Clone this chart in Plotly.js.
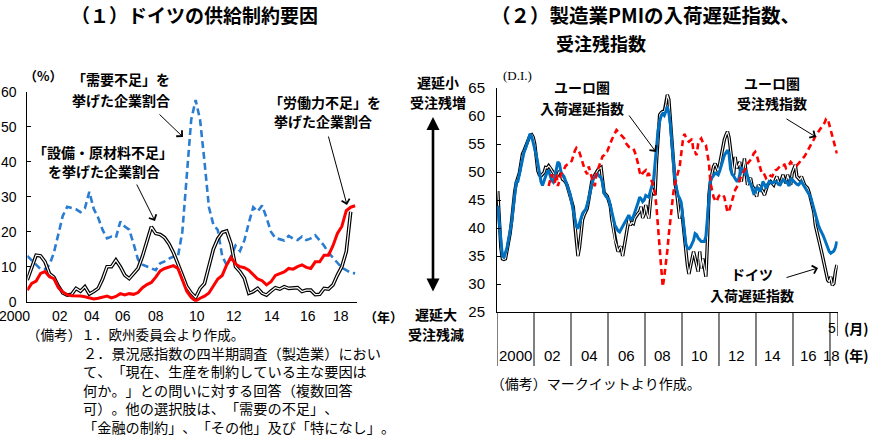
<!DOCTYPE html>
<html>
<head>
<meta charset="utf-8">
<script src="https://cdn.plot.ly/plotly-3.0.1.min.js"></script>
<style>
html,body{margin:0;padding:0;background:#fff;}
#chart{width:871px;height:436px;}
#chart svg text{text-spacing-trim:space-all;font-kerning:none;}
</style>
</head>
<body>
<div id="chart"></div>
<script>
// ---------- DATA : left panel (quarterly, 2000Q1 onward, %) ----------
const leftStartYear = 2000;
const demandShortage = [13.1,11.8,10.5,9.3,9.3,10.5,14,19,24.5,27.1,26.8,26.4,25.6,26.7,31.4,26.5,24,20.5,18.1,18.6,18.3,22.9,21.5,20.6,16.5,12,10.6,10,9.5,9,11,11.5,12.3,12.9,12.9,20,36,52,57.6,52,40,27,22,20.5,13,10.5,13,16,14.5,17.5,22.5,27,25.8,27.5,24,20,18.2,17.9,17.5,18.8,18,17.6,18.6,17.6,18.1,19,17.5,16,14,12.5,11,9.7,9,8.3,8.1];
const equipmentShortage = [6.2,9.5,13.3,13.1,11.4,8,7,4.5,2.5,1.9,2.1,3.8,3,4.3,2.2,2.9,3.8,6.5,10,10,11.9,10,7.6,6.6,8.1,9.5,13,17,21.4,19.5,19.2,18.3,16.5,14,11,7.6,4.3,2.5,1.2,3.8,5.2,10,15,18,19.8,20.2,16.5,10,8.6,6.7,2.4,2.9,3.8,2.4,1.9,3,4,3.6,4.3,3.8,3.8,4,2.9,3.3,3.3,2,2.1,3.8,3.6,4.8,7.6,10,14.3,25.7];
const labourShortage = [3.3,5.2,5.9,8.1,8.6,7.1,6.6,4,2.8,2,1.7,1.7,1.6,1.4,1,0.8,1,1.3,1.6,1.1,1.5,2.3,1.9,2.3,2.1,2.6,4,4.9,5.5,7,8.8,9.5,9.8,10.3,9.5,6.5,3,1.2,0.2,1,1.6,2.5,4.5,6.5,7.5,10.5,12.6,10.8,10,9.7,9,7.6,6.5,6,4.8,5.7,7.5,8,8.5,9.5,9.3,10,10.5,9.8,9.5,11.4,11.4,13.3,13.3,16,19.5,21.5,26,27,27.4];
const leftYearLabels = ["2000","02","04","06","08","10","12","14","16","18"];
const leftYTicks = [0,10,20,30,40,50,60];

// ---------- DATA : right panel (monthly, 2000-01 .. 2018-05, D.I.) ----------
const euroDelivery = [44,41,37.5,35,34.8,35.5,36.5,38,39.5,41,
43.5,46.5,48.2,48.3,49.5,51.2,52.5,53.5,54.2,55,
56.2,56.8,56.3,55.2,54.5,53,51.5,50,48.3,47.6,
48.4,49.5,50,50.2,49.5,48.5,48.2,49,50.5,51.8,
51.5,50,49.5,49.2,48.4,47.5,47,46,44.5,43,
41.5,40.3,39.9,40.8,42,42.6,43,43.3,44.2,45.5,
46.5,47.6,48.8,49.2,49.4,49.6,49.2,49,48,46.2,
45.7,45.4,45.1,44,43,41.8,40.5,40,39.5,39.3,
39.8,40.2,40.6,41.1,41.6,42.3,41.6,41.6,42.1,42.8,
43.8,44.5,45.5,45.2,44.7,45,45.8,45.7,45.5,46.6,
47.6,48.5,51.5,54.5,57.5,59,60,60.4,60.1,60.8,
61.7,60.5,58.4,55,51,48.5,47,45.8,45.3,44.6,
42,39.5,37.2,36.4,36.3,36.6,37.2,37.8,39,38.8,
38.2,37.8,37.6,37.6,37.6,38.5,42,46.5,48.5,49,
49.5,49.8,49.7,49.5,50.2,51.3,52.2,53,53.4,53.9,
53.2,50.5,49.6,49.3,48.8,48.4,48.4,49.8,50.9,50.2,
49.8,50.3,49,48.3,47.9,47.2,46.2,46.4,47.3,47,
46.5,47.2,48.3,47.8,47.1,47.6,48.3,48.2,48,48.2,
48.3,48.2,47.8,47.7,48.2,48.6,48.4,48.3,48,47.5,
48.9,48.6,48.3,48.1,47.8,47.7,48,48.3,47.8,47.4,
47,46.5,46,45.5,44.5,43.3,42,41,40.5,39.8,
39.3,38.7,38,37.2,36.4,35.8,35.5,35.7,35.9,36.5,
37.6];
const germanyDelivery = [46.6,40.5,36.5,34.5,34.4,34.5,36,37.4,39,41.3,
44.5,46.5,48.1,48.8,49.8,51.5,53.2,53.8,54.6,55.2,
56,56.6,56.7,56.2,55,52.5,50.2,49.5,49.3,49.6,
49.9,50.8,50.7,51.1,50.8,50.3,49.9,49.6,49,49.5,
50.2,49.5,48.7,48.5,48.2,47.6,46.5,45.4,44.2,43.7,
40.5,37.5,35,36.5,39.5,41.5,42.3,43,43.5,45,
47,48.3,49,49.5,49.9,50.4,50.6,50.8,48.5,46.3,
46,45.7,44.8,43.9,41.5,39.8,37.8,37,35.8,36.4,
36.7,35,36.4,38.5,39.9,41.4,40.5,41,40.8,41.8,
42.3,42.6,42.9,43.8,41.8,42.5,44.1,42.5,41.7,44.7,
47.1,46.2,45.9,52,56.5,60.2,60.6,60.8,60.8,62,
63.8,62.9,59,54,50.1,48,46.5,44.1,41.7,44,
41,38.2,35,33.4,31.8,33.4,34.5,35.8,34.6,33.5,
32.2,35.8,32.8,34.6,33,31.3,37.6,45.9,48.5,49.8,
51,51.5,50.8,50.1,51.5,53.2,54.8,55.8,56.6,57.2,
56.2,53.6,51,49.5,52.7,50.7,51.2,51.8,48.3,50.5,
52.4,50,47.7,48.6,48.9,47.5,47.1,46.3,45.6,47.7,
47.3,47.1,46.5,45.9,46.8,47.7,48,48.3,48,47.7,
48.5,49.2,48.4,47.7,48.6,49.5,48.5,48,49.5,48.6,
47.7,49.8,50.5,51.3,49.2,48.8,48.6,49.2,48.4,47.7,
47.4,47.1,46.3,45.3,44.2,42.9,40.5,39.5,38.2,37,
35.8,34.6,33,31.6,30.7,30.4,31.3,29.8,30.1,32.2,
33.4];
const backlogStartMonth = 33; // first month index with data (2002-10)
const euroBacklog = [47.5,48.5,49.6,48.5,48.1,49.6,47.5,48.5,49.6,49.9,
50.5,51.1,51.3,51.4,51.6,52,53,53.8,54.3,54,
53.5,52.5,51.5,50.8,50.1,49.6,51,50,48.7,48,
47.5,49.8,50.5,51.4,52,52.8,53,53.5,53.7,54.6,
55.1,55.8,56.3,57,57.5,57.2,56.9,56.5,56.2,56,
55.2,54.8,54.5,54.4,54.3,54.2,53.5,52.7,51.5,50,
49.3,49.8,50.1,50.3,49.5,49.8,48.7,48.3,47.2,46.3,
43.5,40,35.8,32,29.5,31.3,33.5,36,39,41.5,
44.5,46.5,48,49.2,50,51,53.5,55.5,56.8,56.2,
55.7,55.4,55.7,55.9,53.5,53.5,53,55.1,55.7,56,
55.3,55,54.8,53.2,51.5,48,46.5,45.5,45,44.7,
45.5,45.9,46,45.9,45.5,44.1,42.8,43,44,44.8,
45.8,46.8,47.3,47.8,48.6,49.5,49.8,50.2,50.8,51.5,
51.8,52.2,52.6,53.3,53.6,53,52,50.7,50,50.1,
49.5,48.9,49.2,49.5,49.3,49.2,49.8,50.3,50.4,50.8,
51,51.3,51.2,51.3,50.7,51,51.3,51.8,51.5,51.5,
51.3,51.2,51.5,51.8,52.1,52.4,52.8,53.3,53.8,54.2,
54.6,55.2,55.8,56.4,56.8,57.2,57.5,58,58.3,58.8,
59.5,59.5,58.5,57.5,56.5,55,54,53.3];
const rightYearLabels = ["2000","02","04","06","08","10","12","14","16","18"];
const lastMonthLabel = "5";
const rightYTicks = [25,30,35,40,45,50,55,60,65];
const leftNoteHead = '（備考）１．欧州委員会より作成。';
const leftNotes = [
  '２．景況感指数の四半期調査（製造業）におい',
  'て、「現在、生産を制約している主な要因は',
  '何か。」との問いに対する回答（複数回答',
  '可）。他の選択肢は、「需要の不足」、',
  '「金融の制約」、「その他」及び「特になし」。'
];

// ---------- helpers ----------
const W = 871, H = 436;
const JP = "Noto Sans CJK JP";
const LAT = "Liberation Sans";
const px = v => v / W;
const py = v => 1 - v / H;

const qx = demandShortage.map((_, i) => leftStartYear + i / 4);
const qxEq = equipmentShortage.map((_, i) => leftStartYear + i / 4);
const qxLab = labourShortage.map((_, i) => leftStartYear + i / 4);
const mx = euroDelivery.map((_, i) => i);
const mxG = germanyDelivery.map((_, i) => i);
const mxB = euroBacklog.map((_, i) => backlogStartMonth + i);

const traces = [
  {x: qx, y: demandShortage, xaxis:'x', yaxis:'y', mode:'lines', line:{color:'#2A7DD1', width:2.6, dash:'7px,4px'}},
  {x: qxEq, y: equipmentShortage, xaxis:'x', yaxis:'y', mode:'lines', line:{color:'#000', width:3.6}},
  {x: qxEq, y: equipmentShortage, xaxis:'x', yaxis:'y', mode:'lines', line:{color:'#fff', width:1.2}},
  {x: qxLab, y: labourShortage, xaxis:'x', yaxis:'y', mode:'lines', line:{color:'#FF0000', width:3}},
  {x: mxG, y: germanyDelivery, xaxis:'x2', yaxis:'y2', mode:'lines', line:{color:'#000', width:3.4}},
  {x: mxG, y: germanyDelivery, xaxis:'x2', yaxis:'y2', mode:'lines', line:{color:'#fff', width:1.1}},
  {x: mx, y: euroDelivery, xaxis:'x2', yaxis:'y2', mode:'lines', line:{color:'#0070C0', width:3}},
  {x: mxB, y: euroBacklog, xaxis:'x2', yaxis:'y2', mode:'lines', line:{color:'#FF0000', width:2.6, dash:'6px,4px'}}
];

function txt(x, y, text, o) {
  o = o || {};
  return {xref:'paper', yref:'paper', x:px(x), y:py(y), text:text, showarrow:false,
    xanchor:o.xa || 'center', yanchor:'middle', borderpad:0, align:o.align || 'center',
    font:{family:o.family || JP, size:o.size || 14, color:'#000', weight:o.weight || 'normal'}};
}
function arr(tx, ty, hx, hy, o) {
  o = o || {};
  return {xref:'paper', yref:'paper', x:px(hx), y:py(hy), ax:tx - hx, ay:ty - hy, text:'',
    showarrow:true, arrowhead:o.head === undefined ? 4 : o.head, arrowsize:o.size || 1.6,
    arrowwidth:o.width || 1, arrowcolor:'#000', arrowside:o.side || 'end', standoff:0, startstandoff:0};
}

const ann = [];
// titles
ann.push(txt(194.5, 14, '（１）ドイツの供給制約要因', {size:19, weight:'bold'}));
ann.push(txt(490, 14, '（２）製造業PMIの入荷遅延指数、', {size:19.5, weight:'bold', xa:'left'}));
ann.push(txt(601, 43, '受注残指数', {size:18, weight:'bold'}));
// units
ann.push(txt(43, 75, '（%）', {size:13, weight:'bold'}));
ann.push(txt(517, 75, '(D.I.)', {size:13, family:'Liberation Serif'}));
// left labels
ann.push(txt(121, 79, '「需要不足」を', {weight:'bold'}));
ann.push(txt(121, 100, '挙げた企業割合', {weight:'bold'}));
ann.push(txt(103, 152, '「設備・原材料不足」', {weight:'bold'}));
ann.push(txt(104, 171, 'を挙げた企業割合', {weight:'bold'}));
ann.push(txt(325, 102, '「労働力不足」を', {weight:'bold'}));
ann.push(txt(323, 121, '挙げた企業割合', {weight:'bold'}));
ann.push(arr(158, 113, 183, 137));
ann.push(arr(136, 183, 155, 221));
ann.push(arr(328, 135, 347, 205));
// left x tick labels
const leftLabelPx = [15, 60, 92, 123, 156, 197, 234, 272, 308, 341];
leftYearLabels.forEach((t, i) => ann.push(txt(leftLabelPx[i], 316, t, {family:LAT, size:14})));
ann.push(txt(383, 316, '（年）', {size:13, weight:'bold'}));
// middle guide
ann.push(txt(438, 82, '遅延小', {weight:'bold'}));
ann.push(txt(438, 102, '受注残増', {weight:'bold'}));
ann.push(txt(436, 314, '遅延大', {weight:'bold'}));
ann.push(txt(436, 334, '受注残減', {weight:'bold'}));
ann.push(arr(433, 293, 433, 117, {head:2, size:1, width:2.6, side:'end+start'}));
// right labels
ann.push(txt(582, 87, 'ユーロ圏', {weight:'bold'}));
ann.push(txt(582, 108, '入荷遅延指数', {weight:'bold'}));
ann.push(txt(772, 83, 'ユーロ圏', {weight:'bold'}));
ann.push(txt(772, 103, '受注残指数', {weight:'bold'}));
ann.push(txt(752, 274, 'ドイツ', {weight:'bold'}));
ann.push(txt(752, 295, '入荷遅延指数', {weight:'bold'}));
ann.push(arr(628, 114, 656, 152));
ann.push(arr(785, 118, 816, 137));
ann.push(arr(785, 278, 818, 268));
// right category labels
const rightLabelPx = [515, 552, 589, 626, 662, 699, 736, 772, 808, 831];
rightYearLabels.forEach((t, i) => ann.push(txt(rightLabelPx[i], 355, t, {family:LAT, size:15})));
ann.push(txt(832, 328, lastMonthLabel, {family:LAT, size:14}));
ann.push(txt(870, 328, '(月)', {size:14, weight:'bold', xa:'right'}));
ann.push(txt(870, 355, '(年)', {size:14, weight:'bold', xa:'right'}));
// footnotes
ann.push(txt(26, 334.3, leftNoteHead, {xa:'left', size:13.6}));
ann.push(txt(82, 389.9, leftNotes.join('<br>'), {xa:'left', align:'left', size:14.2}));
ann.push(txt(490, 383, '（備考）マークイットより作成。', {xa:'left', size:14}));

// right category dividers
const shapes = [];
const monthsPerBlock = 24;
for (let j = 0; j * monthsPerBlock - 0.5 < euroDelivery.length - 1; j++) {
  const xv = j * monthsPerBlock - 0.5;
  shapes.push({type:'line', xref:'x2', yref:'paper', x0:xv, x1:xv, y0:py(366), y1:py(312), line:{color:'#000', width:1}});
}
shapes.push({type:'line', xref:'x2', yref:'paper', x0:euroDelivery.length - 0.5, x1:euroDelivery.length - 0.5, y0:py(336), y1:py(312), line:{color:'#000', width:1}});

const layout = {
  width: W, height: H,
  margin: {l:0, r:0, t:0, b:0},
  paper_bgcolor: '#fff', plot_bgcolor: 'rgba(0,0,0,0)',
  showlegend: false,
  font: {family: LAT, size: 14, color: '#000'},
  xaxis: {domain:[px(27.3), px(357)], range:[leftStartYear, leftStartYear + (357 - 27.3) / 17.72],
    showline:true, linecolor:'#000', linewidth:1, showticklabels:false, ticks:'', showgrid:false, zeroline:false, fixedrange:true},
  yaxis: {domain:[py(301.7), py(91.7)], range:[0, 60], tickvals:leftYTicks,
    showline:true, linecolor:'#000', linewidth:1, ticks:'inside', ticklen:4, tickcolor:'#000',
    tickfont:{family:LAT, size:14, color:'#000'}, ticklabelstandoff:7, showgrid:false, zeroline:false},
  xaxis2: {domain:[px(497), px(837.7)], range:[-0.5, euroDelivery.length - 0.5], anchor:'y2',
    showline:true, linecolor:'#000', linewidth:1, showticklabels:false, ticks:'', showgrid:false, zeroline:false},
  yaxis2: {domain:[py(312), py(88)], range:[25, 65], anchor:'x2', tickvals:rightYTicks,
    showline:true, linecolor:'#000', linewidth:1, ticks:'inside', ticklen:4, tickcolor:'#000',
    tickfont:{family:LAT, size:15, color:'#000'}, ticklabelstandoff:8, showgrid:false, zeroline:false},
  annotations: ann,
  shapes: shapes
};

Plotly.newPlot('chart', traces, layout, {staticPlot:true, displayModeBar:false});
</script>
</body>
</html>
